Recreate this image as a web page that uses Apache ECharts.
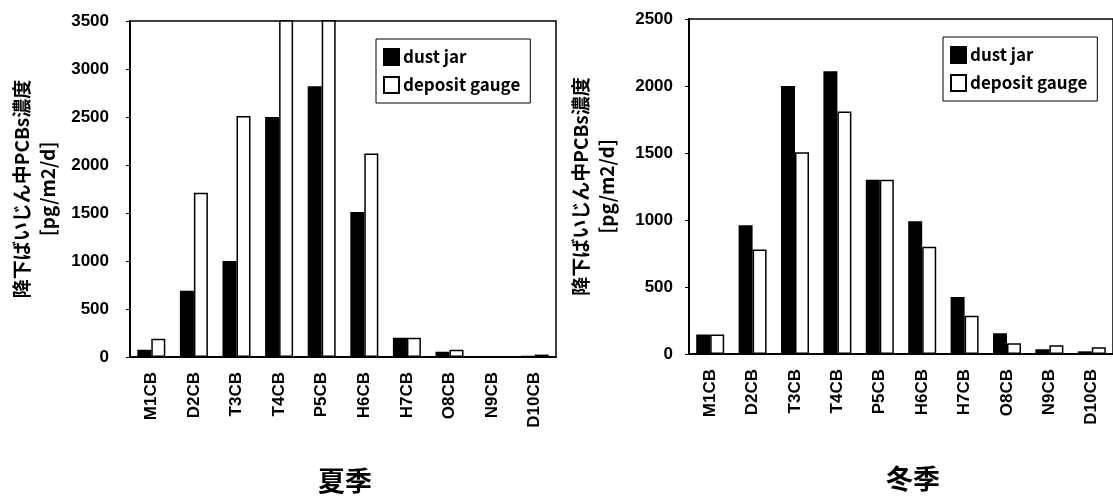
<!DOCTYPE html>
<html><head><meta charset="utf-8">
<script src="https://cdn.jsdelivr.net/npm/echarts@6/dist/echarts.min.js"></script>
<style>html,body{margin:0;padding:0;background:#fff;}#c{width:1113px;height:496px;}</style>
</head><body><div id="c"></div>
<script>
const categories = ['M1CB','D2CB','T3CB','T4CB','P5CB','H6CB','H7CB','O8CB','N9CB','D10CB'];
const seriesNames = ['dust jar','deposit gauge'];
const summerDust = [75, 690, 1000, 2500, 2820, 1510, 200, 55, 5, 10];
const summerDeposit = [190, 1710, 2510, 3800, 3800, 2120, 200, 75, 5, 25];
const winterDust = [145, 960, 2000, 2110, 1300, 990, 425, 155, 35, 20];
const winterDeposit = [145, 780, 1505, 1810, 1300, 800, 285, 80, 65, 50];
const summerTicks = {min: 0, max: 3500, interval: 500};
const winterTicks = {min: 0, max: 2500, interval: 500};
const yTitle = '降下ばいじん中PCBs濃度\n[pg/m2/d]';
const panelTitles = ['夏季','冬季'];

const chart = echarts.init(document.getElementById('c'), null, {renderer: 'canvas'});
const FONT = '"Liberation Sans", Arial, sans-serif';
const CJK = '"Noto Sans CJK JP", sans-serif';

function yAxis(gi, t, margin) {
  return {
    type: 'value', gridIndex: gi, min: t.min, max: t.max, interval: t.interval,
    axisLine: {show: true, lineStyle: {color: '#000', width: 2}},
    axisTick: {show: true, length: 4, lineStyle: {color: '#000', width: 1}},
    splitLine: {show: false},
    axisLabel: {color: '#000', fontFamily: FONT, fontWeight: 'bold', fontSize: 17, margin: margin,
      formatter: function (v) { return String(v); }},
    name: yTitle, nameLocation: 'middle', nameRotate: 90, nameGap: 69,
    nameTextStyle: {color: '#000', fontFamily: CJK, fontWeight: 'bold', fontSize: 19, lineHeight: 26, align: 'center'}
  };
}
function xAxis(gi) {
  return {
    type: 'category', gridIndex: gi, data: categories,
    axisLine: {show: true, lineStyle: {color: '#000', width: 2}},
    axisTick: {show: false},
    axisLabel: {color: '#000', fontFamily: FONT, fontWeight: 'bold', fontSize: 17, rotate: 90, margin: 15, interval: 0}
  };
}
function bars(gi, name, data, fill) {
  return {
    type: 'bar', name: name, xAxisIndex: gi, yAxisIndex: gi, data: data,
    barWidth: 14, barGap: '0%', clip: true,
    itemStyle: {color: fill, borderColor: '#000', borderWidth: 1.5},
    emphasis: {disabled: true}, animation: false
  };
}
function legend(left, top) {
  return {
    show: true, orient: 'vertical', left: left, top: top,
    data: seriesNames, icon: 'rect', itemWidth: 15, itemHeight: 16, itemGap: 10,
    padding: [9, 10, 9, 7], borderColor: '#000', borderWidth: 1,
    textStyle: {color: '#000', fontFamily: CJK, fontWeight: 'bold', fontSize: 17, padding: [0, 0, 0, -1]},
    selectedMode: false
  };
}

chart.setOption({
  backgroundColor: '#fff',
  animation: false,
  title: [
    {text: panelTitles[0], left: 340, top: 462, textAlign: 'center',
     textStyle: {fontFamily: CJK, fontWeight: 'bold', fontSize: 27, color: '#000'}},
    {text: panelTitles[1], left: 908, top: 460, textAlign: 'center',
     textStyle: {fontFamily: CJK, fontWeight: 'bold', fontSize: 27, color: '#000'}}
  ],
  grid: [
    {left: 130, top: 21, width: 426, height: 336, show: true, borderColor: '#000', borderWidth: 1.5, backgroundColor: 'transparent'},
    {left: 689, top: 19, width: 431, height: 335, show: true, borderColor: '#000', borderWidth: 1.5, backgroundColor: 'transparent'}
  ],
  legend: [legend(376, 39), legend(943, 37)],
  xAxis: [xAxis(0), xAxis(1)],
  yAxis: [yAxis(0, summerTicks, 21), yAxis(1, winterTicks, 16)],
  series: [
    bars(0, seriesNames[0], summerDust, '#000'),
    bars(0, seriesNames[1], summerDeposit, '#fff'),
    bars(1, seriesNames[0], winterDust, '#000'),
    bars(1, seriesNames[1], winterDeposit, '#fff')
  ]
});
</script></body></html>
